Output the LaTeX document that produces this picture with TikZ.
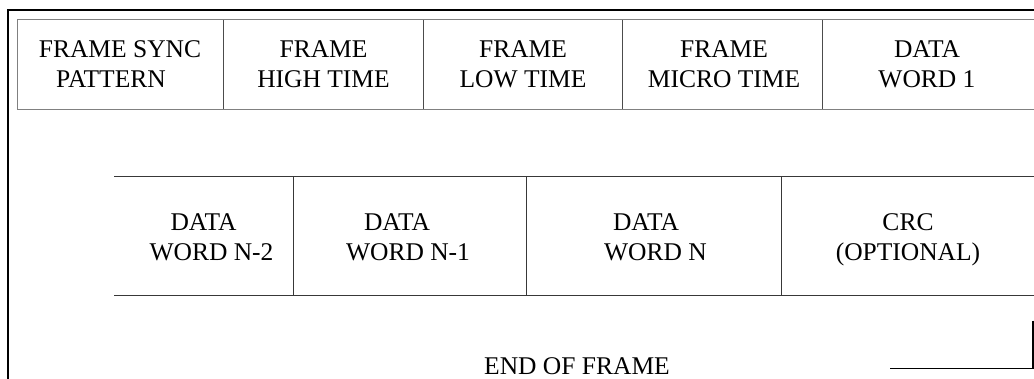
\documentclass[tikz,border=0pt]{standalone}
\usepackage{fontspec}
\setmainfont{Liberation Serif}
\begin{document}
\begin{tikzpicture}[x=1pt,y=-1pt,
  lbl/.style={font=\fontsize{25.5}{30}\selectfont, align=center, inner sep=0pt, text depth=0pt},
  outer/.style={line width=2pt, black},
  toprule/.style={line width=1pt, color=black!50},
  topdiv/.style={line width=1.2pt, color=black!70},
  botrule/.style={line width=1pt, color=black!78},
  bracket/.style={line width=1.5pt, black}]
\useasboundingbox (0,0) rectangle (1034,379);
% outer frame
\draw[outer] (7.5,379) -- (7.5,10.5) -- (1034,10.5);
% top row
\draw[toprule] (1034,20) -- (17.3,20) -- (17.3,109.5) -- (1034,109.5);
\foreach \x in {223.7,423.3,622.7,822.7}
  \draw[topdiv] (\x,20) -- (\x,109.5);
\node[lbl] (fsync) at (120,64.5) {FRAME SYNC\\PATTERN\hspace*{18pt}};
\node[lbl] (fhigh) at (323.5,64.5) {FRAME\\HIGH TIME};
\node[lbl] (flow) at (523,64.5) {FRAME\\LOW TIME};
\node[lbl] (fmicro) at (724,64.5) {FRAME\\MICRO TIME};
\node[lbl] (dw1) at (927,64.5) {DATA\\WORD 1};
% bottom row
\draw[botrule] (114,176.3) -- (1034,176.3);
\draw[botrule] (114,296) -- (1034,296);
\foreach \x in {293.3,526.7,781.3}
  \draw[botrule] (\x,176.3) -- (\x,296);
\node[lbl] (dwn2) at (211.5,237) {DATA\hspace*{16pt}\\WORD N-2};
\node[lbl] (dwn1) at (408,237) {DATA\hspace*{22pt}\\WORD N-1};
\node[lbl] (dwn) at (655.5,237) {DATA\hspace*{19pt}\\WORD N};
\node[lbl] (crc) at (908,237) {CRC\\(OPTIONAL)};
% end of frame
\node[lbl, anchor=base] (eof) at (577,374) {END OF FRAME};
\coordinate (bra) at (1033,320.7);
\coordinate (brb) at (1033,368.5);
\coordinate (brc) at (890,368.5);
\draw[bracket] (bra) -- (brb) -- (brc);
\end{tikzpicture}
\end{document}
